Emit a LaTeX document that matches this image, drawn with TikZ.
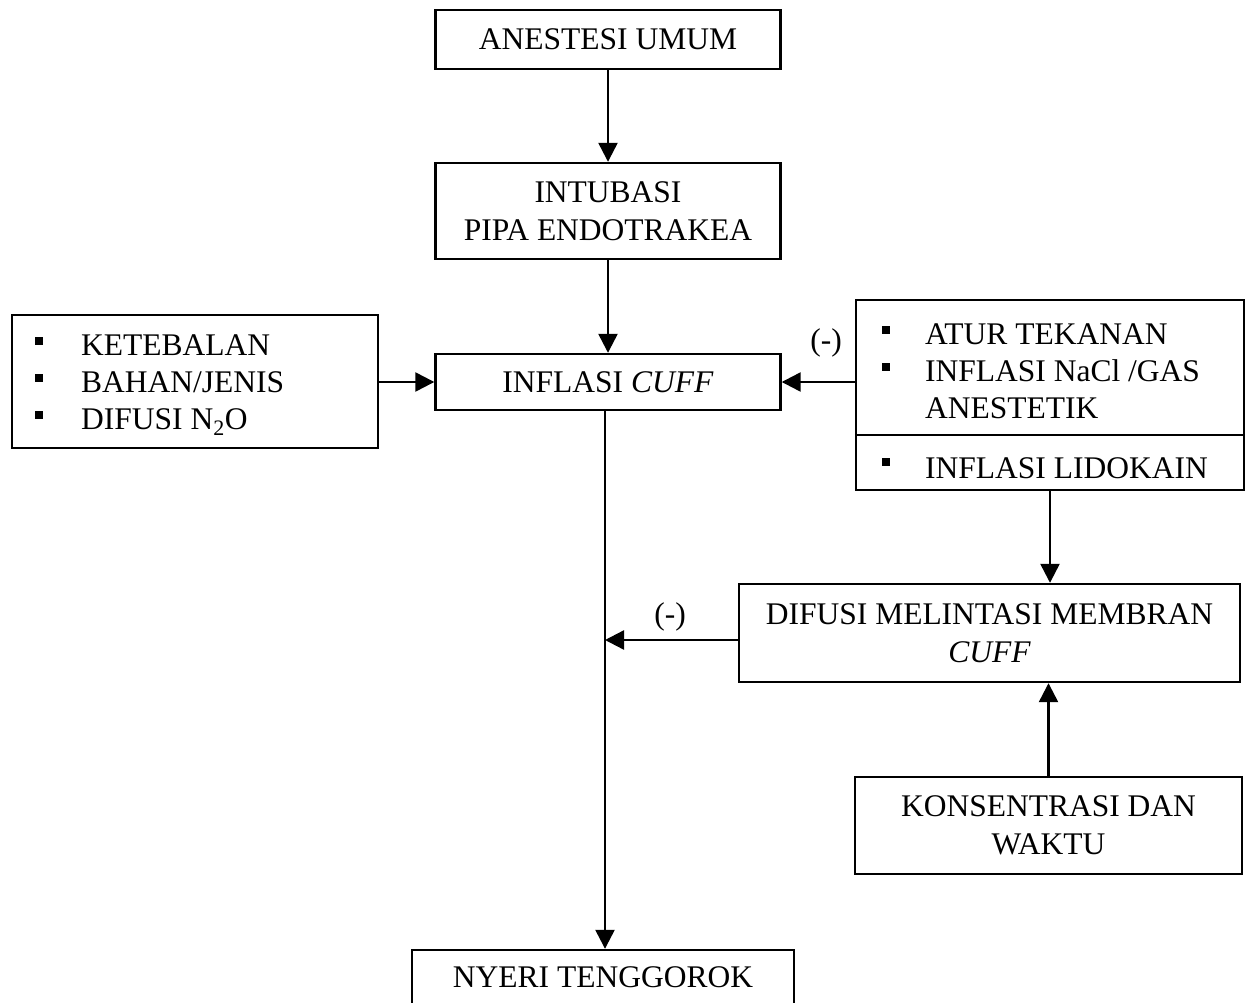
\documentclass[tikz,border=0pt]{standalone}
\usepackage{fontspec}
\setmainfont{Liberation Serif}
\usetikzlibrary{arrows.meta}
\tikzset{
  box/.style={draw=black, line width=2.4pt, rectangle, inner sep=0pt, align=center,
              font=\fontsize{31.5}{37.5}\selectfont},
  txt/.style={inner sep=0pt, anchor=base west, font=\fontsize{31.5}{37.5}\selectfont},
  lbl/.style={inner sep=0pt, font=\fontsize{31.5}{37.5}\selectfont},
  arr/.style={line width=2.4pt, -{Triangle[length=19pt,width=19pt]}},
  ln/.style={line width=2.4pt},
  bul/.style={fill=black}
}
\begin{document}
\begin{tikzpicture}[x=1pt,y=-1pt]
\useasboundingbox (0,0) rectangle (1248,1003);
\fill[white] (0,0) rectangle (1248,1003);
\clip (0,0) rectangle (1248,1003);

% center boxes
\node[box, minimum width=345pt, minimum height=59pt] (anest) at (608,39.5) {ANESTESI UMUM};
\node[box, minimum width=345pt, minimum height=96pt] (intub) at (608,211) {INTUBASI\\PIPA ENDOTRAKEA};
\node[box, minimum width=345pt, minimum height=56pt] (infl) at (608,382) {INFLASI \textit{CUFF}};

% left box
\node[box, minimum width=366pt, minimum height=133pt] (lb) at (195,381.5) {};
\fill[bul] (35,337) rectangle (43,345);
\fill[bul] (35,374) rectangle (43,382);
\fill[bul] (35,411) rectangle (43,419);
\node[txt] (l1) at (81,355) {KETEBALAN};
\node[txt] (l2) at (81,392) {BAHAN/JENIS};
\node[txt] (l3) at (81,429) {DIFUSI N\textsubscript{2}O};

% right box
\node[box, minimum width=388pt, minimum height=190pt] (rb) at (1050,395) {};
\draw[ln] (rb.west |- 0,435) -- (rb.east |- 0,435);
\fill[bul] (882,326) rectangle (890,334);
\fill[bul] (882,363) rectangle (890,371);
\fill[bul] (882,458) rectangle (890,466);
\node[txt] (r1) at (925,344) {ATUR TEKANAN};
\node[txt] (r2) at (925,381) {INFLASI NaCl /GAS};
\node[txt] (r3) at (925,418) {ANESTETIK};
\node[txt] (r4) at (925,478) {INFLASI LIDOKAIN};

% difusi box
\node[box, minimum width=501pt, minimum height=98pt] (dif) at (989.5,633) {DIFUSI MELINTASI MEMBRAN\\\textit{CUFF}};
% konsentrasi box
\node[box, minimum width=387pt, minimum height=97pt] (kons) at (1048.5,825.5) {KONSENTRASI DAN\\WAKTU};
% nyeri box
\node[box, minimum width=382pt, minimum height=80pt] (ny) at (603,990) {};
\node[lbl] (nyt) at (603,977) {NYERI TENGGOROK};

% labels
\node[lbl] (m1) at (826,343) {(-)};
\node[lbl] (m2) at (670,617) {(-)};

\coordinate (j) at (605,640);

% connectors
\draw[arr] (anest) -- (intub);
\draw[arr] (intub) -- (infl);
\draw[arr] (lb.east |- infl) -- (infl.west);
\draw[arr] (rb.west |- infl) -- (infl.east);
\draw[arr] (infl.south -| j) -- (ny.north -| j);
\draw[arr] (dif.west |- j) -- (j);
\draw[arr] (rb.south) -- (rb.south |- dif.north);
\draw[arr] (kons.north) -- (kons.north |- dif.south);
\end{tikzpicture}
\end{document}
